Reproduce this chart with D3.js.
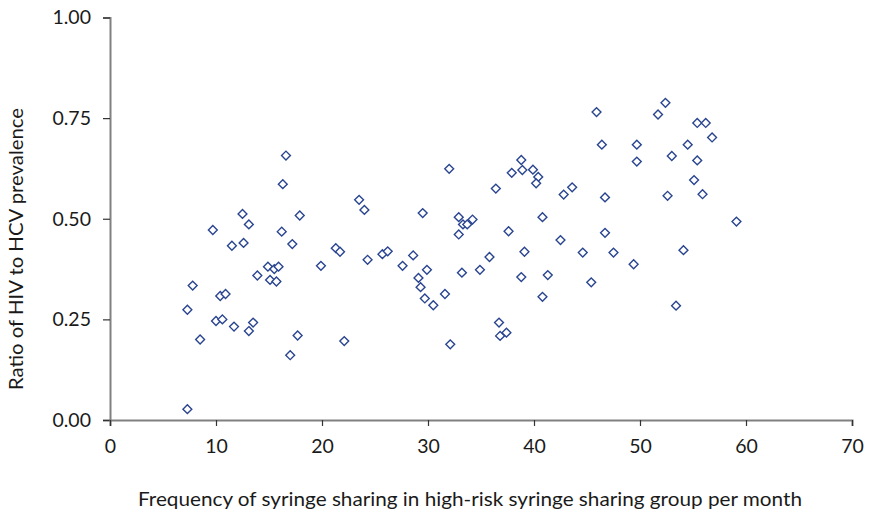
<!DOCTYPE html>
<html>
<head>
<meta charset="utf-8">
<script src="https://cdn.jsdelivr.net/npm/d3@7"></script>
<style>
  body { margin: 0; background: #fff; }
  text { font-family: "Lato", "Open Sans", sans-serif; fill: #1a1a1a; }
</style>
</head>
<body>
<div id="chart"></div>
<script>
// sharing frequency per month (x) vs HIV/HCV prevalence ratio (y)
const freq = [16.6, 16.3, 12.5, 17.9, 9.7, 13.1, 16.2, 11.5, 12.6, 17.2,
  21.3, 21.7, 19.9, 14.9, 15.5, 15.9, 13.9, 15.1, 15.7, 7.8,
  10.4, 10.9, 7.3, 10.0, 10.6, 11.7, 13.1, 13.5, 8.5, 17.7,
  22.1, 17.0, 7.3, 23.5, 24.0, 24.3, 25.7, 26.2, 27.6, 28.6,
  29.5, 29.1, 29.9, 29.3, 29.7, 30.5, 31.6, 32.0, 32.9, 33.3,
  33.7, 34.2, 32.9, 33.2, 32.1, 34.9, 35.8, 36.4, 36.7, 36.8,
  37.4, 37.6, 37.9, 38.8, 38.9, 39.9, 40.4, 40.2, 39.1, 38.8,
  40.8, 41.3, 40.8, 42.5, 42.8, 43.6, 44.6, 45.9, 52.4, 51.7,
  55.4, 56.2, 56.8, 46.4, 49.7, 54.5, 53.0, 49.7, 55.4, 55.1,
  52.6, 46.7, 55.9, 59.1, 46.7, 47.5, 49.4, 54.1, 45.4, 53.4];
const ratio = [0.657, 0.586, 0.512, 0.508, 0.472, 0.486, 0.468, 0.433, 0.440, 0.437,
  0.427, 0.418, 0.383, 0.381, 0.375, 0.381, 0.359, 0.348, 0.344, 0.334,
  0.308, 0.313, 0.274, 0.246, 0.250, 0.232, 0.221, 0.242, 0.200, 0.210,
  0.196, 0.161, 0.027, 0.547, 0.522, 0.398, 0.412, 0.419, 0.383, 0.409,
  0.514, 0.353, 0.373, 0.330, 0.302, 0.285, 0.313, 0.624, 0.504, 0.486,
  0.486, 0.498, 0.461, 0.366, 0.188, 0.373, 0.405, 0.575, 0.242, 0.209,
  0.217, 0.469, 0.614, 0.646, 0.621, 0.622, 0.604, 0.588, 0.418, 0.355,
  0.504, 0.360, 0.306, 0.447, 0.560, 0.578, 0.416, 0.765, 0.788, 0.759,
  0.738, 0.738, 0.702, 0.684, 0.684, 0.684, 0.656, 0.642, 0.645, 0.596,
  0.557, 0.553, 0.561, 0.493, 0.465, 0.416, 0.387, 0.422, 0.342, 0.284];
const xTicks = [0, 10, 20, 30, 40, 50, 60, 70];
const yTicks = [0, 0.25, 0.5, 0.75, 1];

const width = 875, height = 517;
const margin = {top: 17.5, right: 23, bottom: 97, left: 110};
const visWidth = width - margin.left - margin.right;
const visHeight = height - margin.top - margin.bottom;

const svg = d3.select('#chart').append('svg')
    .attr('width', width)
    .attr('height', height);

const g = svg.append('g')
    .attr('transform', `translate(${margin.left}, ${margin.top})`);

const x = d3.scaleLinear().domain([0, 70]).range([0, visWidth]);
const y = d3.scaleLinear().domain([0, 1]).range([visHeight, 0]);

// axes
const yAxis = g.append('g')
    .call(d3.axisLeft(y).tickValues(yTicks).tickFormat(d3.format('.2f')).tickSize(7).tickPadding(12));
const xAxis = g.append('g')
    .attr('transform', `translate(0, ${visHeight})`)
    .call(d3.axisBottom(x).tickValues(xTicks).tickSize(6).tickPadding(13));

[xAxis, yAxis].forEach(a => {
  a.select('.domain').attr('stroke', '#808080').attr('stroke-width', 2);
  a.selectAll('.tick line').attr('stroke', '#333').attr('stroke-width', 1.2);
  a.selectAll('.tick text').attr('font-size', 19.5).attr('fill', '#1a1a1a')
    .style('font-family', '"Lato", sans-serif');
});

// points
const pts = freq.map((f, i) => ({f: f, r: ratio[i]}));
g.append('g')
  .selectAll('path')
  .data(pts)
  .enter().append('path')
    .attr('d', d3.symbol().type(d3.symbolDiamond2).size(50))
    .attr('transform', d => `translate(${x(d.f)}, ${y(d.r)})`)
    .attr('fill', '#fff')
    .attr('stroke', '#2a4590')
    .attr('stroke-width', 1.4);

// labels
svg.append('text')
    .attr('x', 138)
    .attr('y', 506)
    .attr('font-size', 19)
    .attr('textLength', 664)
    .attr('lengthAdjust', 'spacingAndGlyphs')
    .text('Frequency of syringe sharing in high-risk syringe sharing group per month');

svg.append('text')
    .attr('transform', 'translate(23, 390) rotate(-90)')
    .attr('font-size', 18.5)
    .attr('textLength', 282)
    .attr('lengthAdjust', 'spacingAndGlyphs')
    .text('Ratio of HIV to HCV prevalence');
</script>
</body>
</html>
